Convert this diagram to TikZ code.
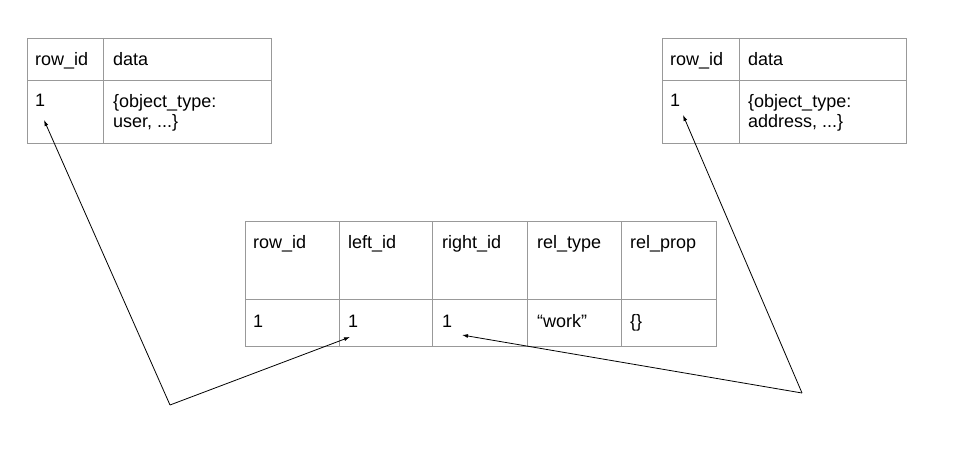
\documentclass[tikz,border=0pt]{standalone}
\usepackage{fontspec}
\setmainfont{Liberation Sans}
\usetikzlibrary{arrows.meta}
\begin{document}
\begin{tikzpicture}[x=1pt,y=-1pt,
  grid/.style={draw=black!40,line width=0.9pt},
  txt/.style={anchor=base west,inner sep=0pt,font=\fontsize{18}{20}\selectfont},
  two/.style={txt,align=left,anchor=north west},
  link/.style={draw=black,line width=0.8pt,-{Latex[length=6pt,width=4pt]}}]
\useasboundingbox (0,0) rectangle (960,457);
% left table
\draw[grid] (27,38) rectangle (271,143) (103,38) -- (103,143) (27,80) -- (271,80);
\node[txt] (lrh) at (35,66) {row\_id};
\node[txt] (ldh) at (113,66) {data};
\node[txt] (lr1) at (35,107) {1};
\node[two] (ld1) at (113,94) {\{object\_type:\\user, ...\}};
% right table
\draw[grid] (662,38) rectangle (906,143) (739,38) -- (739,143) (662,80) -- (906,80);
\node[txt] (rrh) at (670,66) {row\_id};
\node[txt] (rdh) at (748,66) {data};
\node[txt] (rr1) at (670,107) {1};
\node[two] (rd1) at (748,94) {\{object\_type:\\address, ...\}};
% middle table
\draw[grid] (245,221) rectangle (716,346)
  (339,221) -- (339,346) (432,221) -- (432,346) (527,221) -- (527,346) (621,221) -- (621,346)
  (245,299) -- (716,299);
\node[txt] (mh1) at (253,248) {row\_id};
\node[txt] (mh2) at (348,248) {left\_id};
\node[txt] (mh3) at (442,248) {right\_id};
\node[txt] (mh4) at (537,248) {rel\_type};
\node[txt] (mh5) at (630,248) {rel\_prop};
\node[txt] (m1) at (253,327) {1};
\node[txt] (m2) at (348,327) {1};
\node[txt] (m3) at (442,327) {1};
\node[txt] (m4) at (537,327) {“work”};
\node[txt] (m5) at (630,327) {\{\}};
% connectors
\coordinate (lv) at (170,405);
\coordinate (rv) at (802,393);
\coordinate (lt) at (44,120);
\coordinate (lm) at (350,337);
\coordinate (rt) at (683,115);
\coordinate (rm) at (462,335);
\draw[link] (lv) -- (lt);
\draw[link] (lv) -- (lm);
\draw[link] (rv) -- (rt);
\draw[link] (rv) -- (rm);
\end{tikzpicture}
\end{document}
